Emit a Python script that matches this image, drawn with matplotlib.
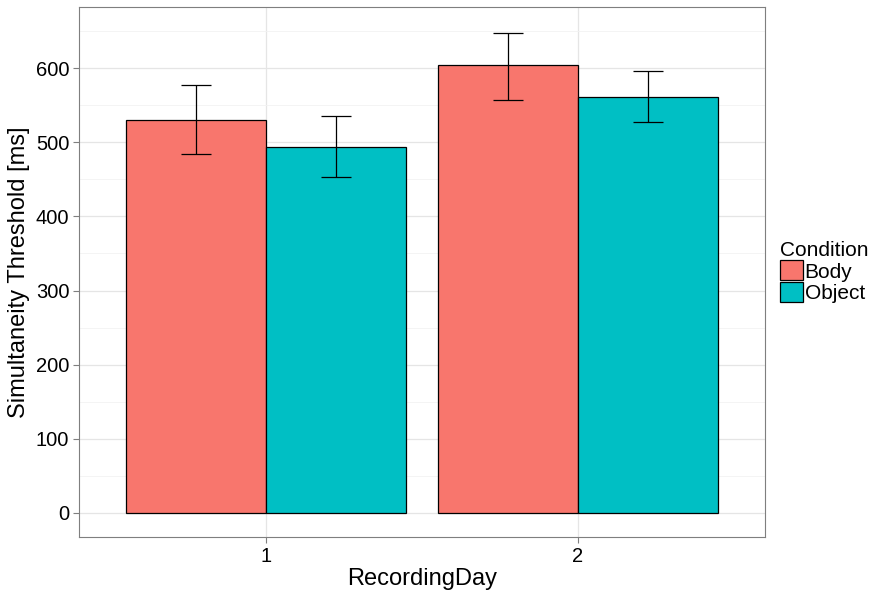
import matplotlib
matplotlib.use("Agg")
import matplotlib.pyplot as plt
import numpy as np
from matplotlib.patches import Patch

plt.rcParams["font.family"] = ["Liberation Sans", "DejaVu Sans"]

# values
days = ["1", "2"]
conditions = ["Body", "Object"]
body_mean = [531, 604]
object_mean = [494.5, 561.5]
body_lo = [484, 558]
body_hi = [578, 648.5]
object_lo = [453, 527]
object_hi = [536, 596]
colors = {"Body": "#F8766D", "Object": "#00BFC4"}

fig = plt.figure(figsize=(8.72, 5.92), dpi=100)
ax = fig.add_axes([79 / 872, 1 - 537 / 592, (765 - 79) / 872, (537 - 7) / 592])

x = np.arange(1, len(days) + 1)
w = 0.45
means = {"Body": body_mean, "Object": object_mean}
lows = {"Body": body_lo, "Object": object_lo}
highs = {"Body": body_hi, "Object": object_hi}
for i, cond in enumerate(conditions):
    xs = x + (i - 0.5) * w
    ax.bar(xs, means[cond], w, color=colors[cond], edgecolor="black", linewidth=0.9, zorder=2)
    m = np.array(means[cond])
    err = [m - np.array(lows[cond]), np.array(highs[cond]) - m]
    ax.errorbar(xs, m, yerr=err, fmt="none", ecolor="black", elinewidth=0.9,
                capsize=11, capthick=0.9, zorder=3)

ax.set_xlim(0.4, 2.6)
ax.set_ylim(-33, 683)
ax.set_yticks(np.arange(0, 601, 100))
ax.set_yticks(np.arange(50, 651, 100), minor=True)
ax.set_xticks(x)
ax.set_xticklabels(days)
ax.grid(which="major", color="#E5E5E5", linewidth=0.9, zorder=0)
ax.grid(which="minor", axis="y", color="#F2F2F2", linewidth=0.6, zorder=0)
ax.set_axisbelow(True)
ax.tick_params(which="minor", length=0)
ax.tick_params(which="major", length=4, color="#7F7F7F", labelsize=14.5, labelcolor="black",
               width=0.8, pad=3)
for s in ax.spines.values():
    s.set_color("#7F7F7F")
    s.set_linewidth(0.8)

ax.set_xlabel("RecordingDay", fontsize=17, labelpad=2)
ax.set_ylabel("Simultaneity Threshold [ms]", fontsize=17, labelpad=4)

handles = [Patch(facecolor=colors[c], edgecolor="black", linewidth=0.9, label=c) for c in conditions]
leg = ax.legend(handles=handles, title="Condition", loc="center left",
                bbox_to_anchor=(1.0, 0.5), frameon=False, fontsize=15, title_fontsize=15,
                handlelength=1.1, handleheight=1.1, handletextpad=0.1, labelspacing=0.0,
                borderaxespad=0.5, borderpad=0.2)
leg._legend_box.align = "left"

fig.savefig("out.png", dpi=100, facecolor="white")
